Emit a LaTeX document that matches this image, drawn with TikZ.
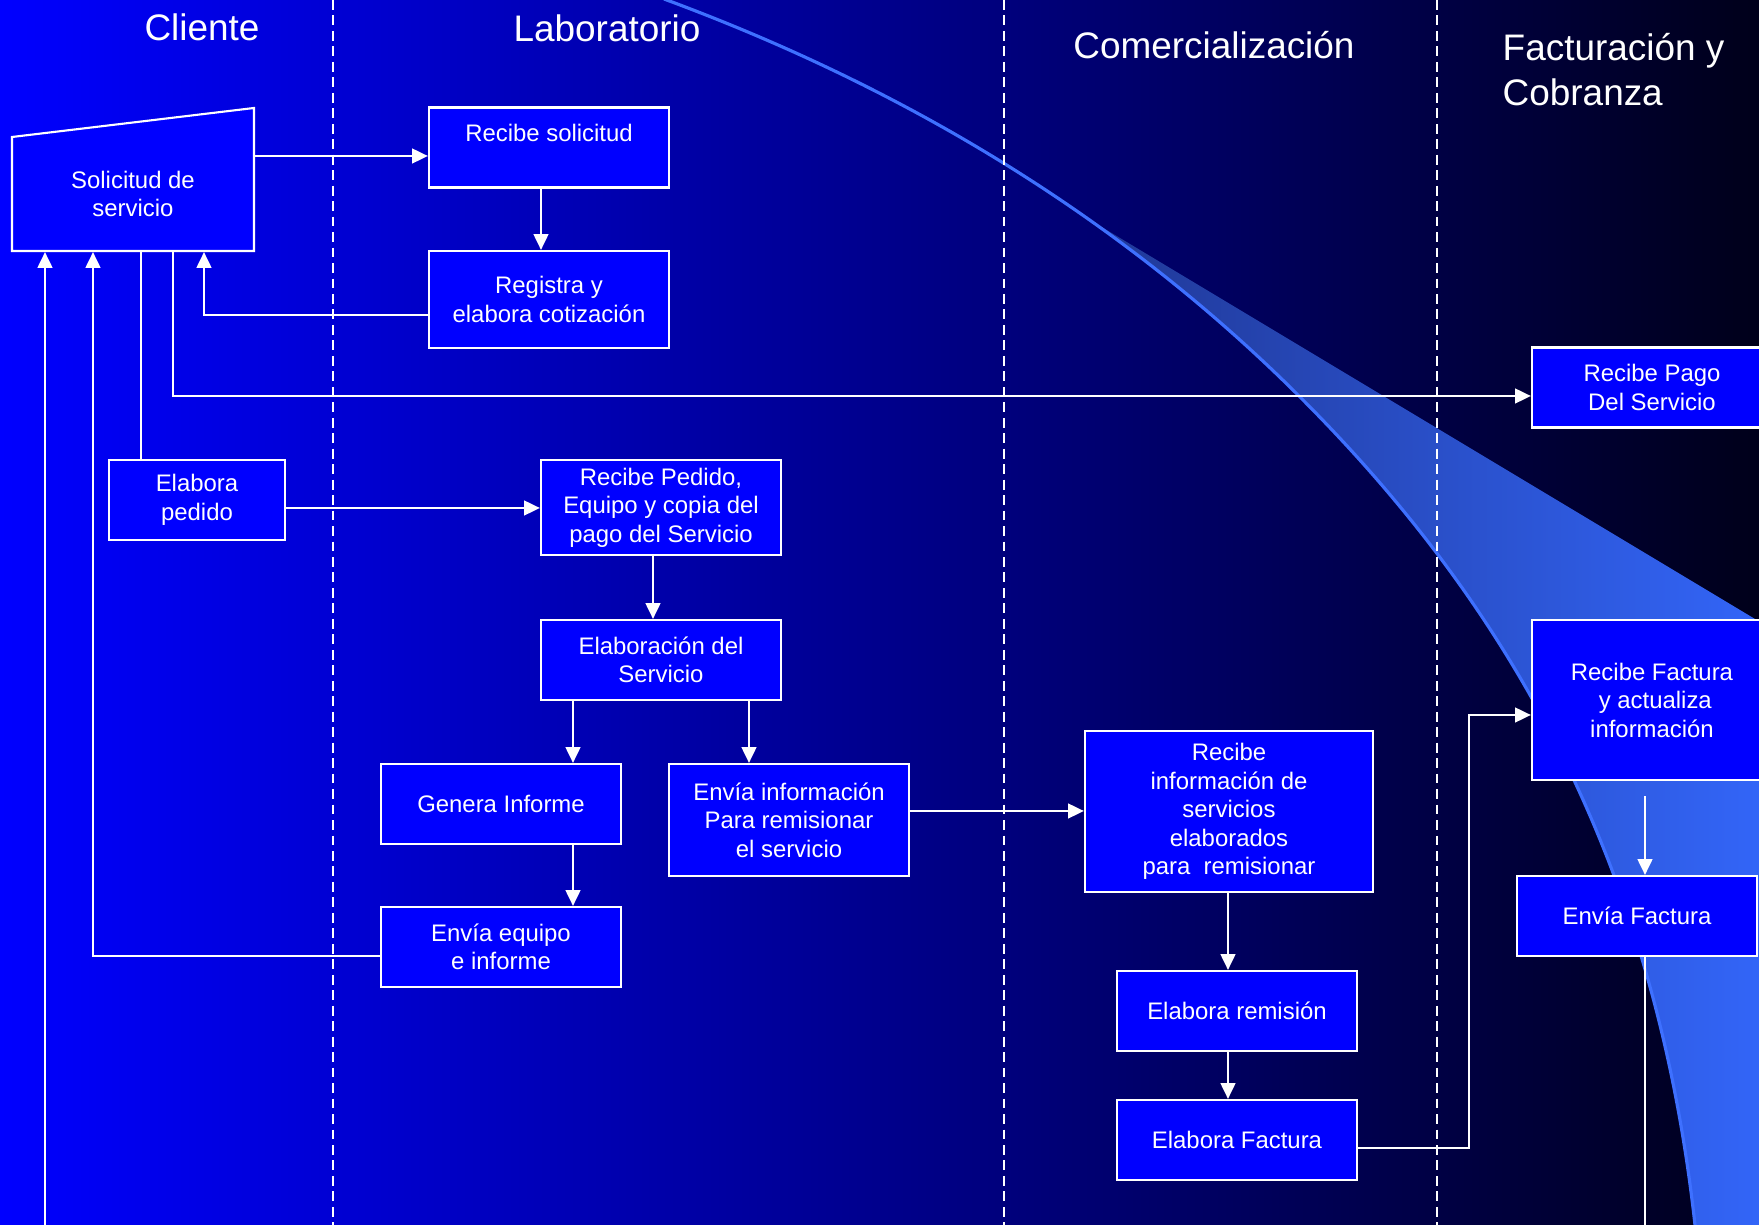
\documentclass[tikz,border=0pt]{standalone}
\usepackage{fontspec}
\setmainfont{Liberation Sans}
\usetikzlibrary{calc, arrows.meta, positioning}

\definecolor{azul}{RGB}{0,0,255}
\definecolor{fondomed}{RGB}{0,0,150}
\definecolor{fondoder}{RGB}{0,0,26}
\definecolor{ondaosc}{RGB}{32,56,150}
\definecolor{ondaclara}{RGB}{51,102,250}
\definecolor{ondaborde}{RGB}{62,112,255}

\newcommand{\fuentecaja}{\fontsize{6.8}{8.1}\selectfont}
\newcommand{\fuentetit}{\fontsize{10.5}{12.8}\selectfont}

\begin{document}
\begin{tikzpicture}[x=0.01cm, y=-0.01cm, >={Triangle[length=4.5pt, width=4.2pt]}]
				\tikzstyle{caja} = [draw=white, line width=0.6pt, fill=azul, text=white, font=\fuentecaja, align=center, inner sep=0pt, minimum width=2.4cm, minimum height=0.8cm]
				\tikzstyle{titulo} = [text=white, font=\fuentetit, inner sep=0pt]
				\tikzstyle{linea} = [draw=white, line width=0.6pt]
				\tikzstyle{flecha} = [linea, ->]
				\tikzstyle{carril} = [draw=white, line width=0.6pt, dash pattern=on 2.8pt off 1.6pt]
				
				\useasboundingbox (0,0) rectangle (1759,1225);
				\clip (0,0) rectangle (1759,1225);
				
				% fondo y onda
				\shade[left color=azul, middle color=fondomed, right color=fondoder] (0,0) rectangle (1759,1225);
				\begin{scope}
				\clip (664,-1) .. controls (916,92) and (1128,225) .. (1300,397) .. controls (1488,585) and (1652,835) .. (1695,1225) -- (1695,1240) -- (1800,1240) -- (1800,-10) -- cycle;
				\clip (500,-134) -- (1800,646) -- (1800,1240) -- (500,1240) -- cycle;
				\shade[left color=ondaosc, right color=ondaclara] (1095,200) rectangle (1775,1240);
				\end{scope}
				\draw[ondaborde, line width=0.9pt] (664,-1) .. controls (916,92) and (1128,225) .. (1300,397) .. controls (1488,585) and (1652,835) .. (1695,1225) -- (1695,1240);
				
				% carriles
				\foreach \x in {333, 1004, 1437}
				\draw[carril] (\x,0) -- (\x,1225);
				
				\node[titulo] 	at (202, 27) 	(cliente) 	{Cliente};
				\node[titulo] 	at (607, 28) 	(labo) 		{Laboratorio};
				\node[titulo] 	at (1214, 45) 	(comer) 	{Comercialización};
				\node[titulo, anchor=west, align=left] at (1502, 70) (factu) {Facturación y\\Cobranza};
				
				% solicitud (entrada manual)
				\coordinate (s1) at (12, 251);
				\coordinate (s2) at (12, 137);
				\coordinate (s3) at (254, 108);
				\coordinate (s4) at (254, 251);
				\draw[linea, fill=azul] (s1) -- (s2) -- (s3) -- (s4) -- cycle;
				\node[caja, draw=none, fill=none, minimum width=2.42cm, minimum height=1.14cm] at (133, 194) (solic) {Solicitud de\\servicio};
				
				\node[caja] 	at (549, 147.5) 	(recsol) 	{Recibe solicitud\\\mbox{}};
				\node[caja, minimum height=0.97cm] 	at (549, 299.5) 	(regis) 	{Registra y\\elabora cotización};
				\node[caja] 	at (1652, 387.5) 	(recpago) 	{Recibe Pago\\Del Servicio};
				\node[caja, minimum width=1.76cm] 	at (197, 500) 	(elabped) 	{Elabora\\pedido};
				\node[caja, minimum height=0.95cm] 	at (661, 507.5) 	(recped) 	{Recibe Pedido,\\Equipo y copia del\\pago del Servicio};
				\node[caja] 	at (661, 660) 	(elabserv) 	{Elaboración del\\Servicio};
				\node[caja] 	at (501, 804) 	(genera) 	{Genera Informe};
				\node[caja, minimum height=1.12cm] 	at (789, 820) 	(envinfo) 	{Envía información\\Para remisionar\\el servicio};
				\node[caja] 	at (501, 947) 	(envequ) 	{Envía equipo\\e informe};
				\node[caja, minimum width=2.88cm, minimum height=1.61cm] 	at (1229, 811.5) 	(recinfo) 	{Recibe\\información de\\servicios\\elaborados\\para\ \ remisionar};
				\node[caja] 	at (1237, 1011) 	(elabrem) 	{Elabora remisión};
				\node[caja] 	at (1237, 1140) 	(elabfac) 	{Elabora Factura};
				\node[caja, minimum height=1.6cm] 	at (1652, 700) 	(recfac) 	{Recibe Factura\\\ y actualiza\\información};
				\node[caja] 	at (1637, 916) 	(envfac) 	{Envía Factura};
				
				% conexiones
				\coordinate (a1) at ($(recsol.west)+(0,8.5)$);
				\draw[flecha] (solic.east |- a1) -- (a1);
				\draw[flecha] ($(recsol.south)+(-8,0)$) -- ($(regis.north)+(-8,0)$);
				\draw[flecha] ($(regis.west)+(0,15.5)$) -| ($(solic.south)+(71,0)$);
				\draw[flecha] ($(solic.south)+(40,0)$) |- ($(recpago.west)+(0,8.5)$);
				\draw[linea] ($(elabped.north)+(-56,0)$) -- ($(solic.south)+(8,0)$);
				\draw[flecha] ($(elabped.east)+(0,8)$) -- ($(recped.west)+(0,0.5)$);
				\draw[flecha] ($(recped.south)+(-8,0)$) -- ($(elabserv.north)+(-8,0)$);
				\draw[flecha] ($(elabserv.south)+(-88,0)$) -- ($(genera.north)+(72,0)$);
				\draw[flecha] ($(elabserv.south)+(88,0)$) -- ($(envinfo.north)+(-40,0)$);
				\draw[flecha] ($(genera.south)+(72,0)$) -- ($(envequ.north)+(72,0)$);
				\draw[flecha] ($(envequ.west)+(0,9)$) -| ($(solic.south)+(-40,0)$);
				\coordinate (abajo1) at (45, 1230);
				\draw[flecha] (abajo1) -- (abajo1 |- solic.south);
				\draw[flecha] ($(envinfo.east)+(0,-9)$) -- ($(recinfo.west)+(0,-0.5)$);
				\draw[flecha] ($(recinfo.south)+(-1,0)$) -- ($(elabrem.north)+(-9,0)$);
				\draw[flecha] ($(elabrem.south)+(-9,0)$) -- ($(elabfac.north)+(-9,0)$);
				\draw[flecha] ($(elabfac.east)+(0,8)$) -- ++(111,0) |- ($(recfac.west)+(0,15)$);
				\draw[flecha] ($(recfac.south)+(-7,15)$) -- ($(envfac.north)+(8,0)$);
				\coordinate (abajo2) at (1645, 1230);
				\draw[linea] ($(envfac.south)+(8,0)$) -- (abajo2);
\end{tikzpicture}
\end{document}
